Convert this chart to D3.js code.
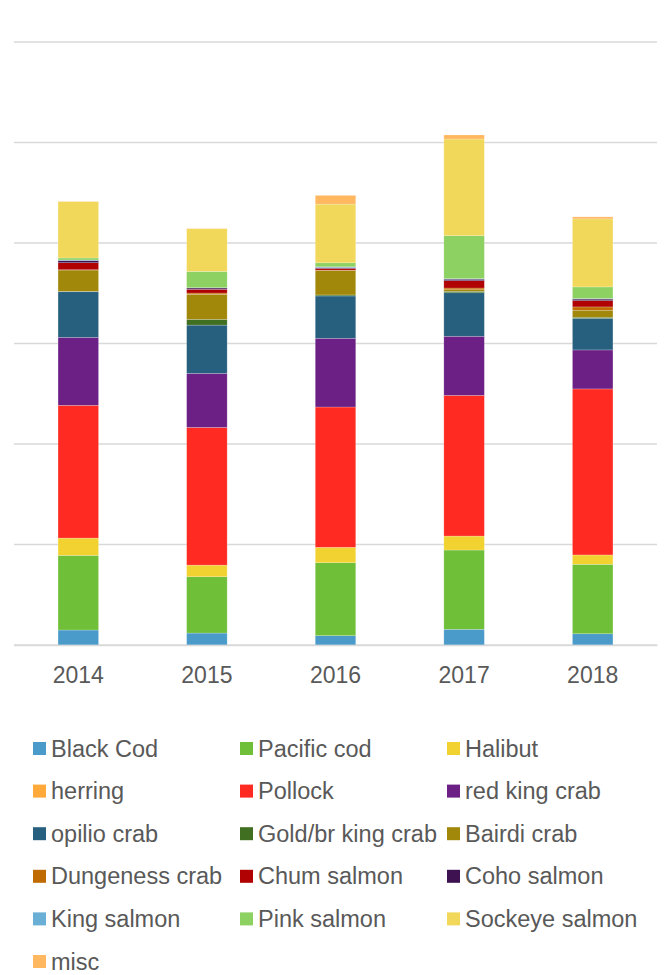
<!DOCTYPE html>
<html>
<head>
<meta charset="utf-8">
<script src="https://cdn.jsdelivr.net/npm/d3@7"></script>
<style>
  html, body { margin: 0; padding: 0; background: #fff; }
  svg { display: block; font-family: "Liberation Sans", Arial, sans-serif; }
</style>
</head>
<body>
<svg id="chart" width="667" height="975"></svg>
<script>
// Years on the category axis
const years = ["2014", "2015", "2016", "2017", "2018"];

// Value of each fishery per year (stacked bottom to top in this order)
const blackCod       = [14.9, 11.9, 9.3, 15.6, 11.2];
const pacificCod     = [74.3, 56.0, 72.6, 78.9, 69.1];
const halibut        = [17.2, 11.6, 15.3, 13.9, 9.3];
const herring        = [0.0, 0.0, 0.0, 0.0, 0.0];
const pollock        = [132.1, 137.0, 139.6, 140.0, 165.2];
const redKingCrab    = [67.6, 53.7, 68.4, 58.8, 38.8];
const opilioCrab     = [45.4, 48.1, 42.1, 43.3, 31.5];
const goldBrKingCrab = [0.4, 5.7, 1.0, 1.4, 1.0];
const bairdiCrab     = [21.2, 24.9, 24.2, 1.6, 7.0];
const dungenessCrab  = [0.3, 1.3, 0.5, 1.7, 3.3];
const chumSalmon     = [7.0, 3.7, 1.7, 7.3, 6.3];
const cohoSalmon     = [2.2, 1.3, 0.8, 1.5, 1.5];
const kingSalmon     = [0.5, 0.3, 0.8, 0.5, 0.5];
const pinkSalmon     = [2.0, 16.2, 4.0, 42.8, 11.6];
const sockeyeSalmon  = [56.0, 42.5, 58.4, 96.2, 67.7];
const misc           = [0.3, 0.3, 8.7, 4.0, 2.0];

// Value-axis gridline positions
const gridTicks = [0, 100, 200, 300, 400, 500, 600];

const seriesNames = [
  "Black Cod", "Pacific cod", "Halibut", "herring", "Pollock", "red king crab",
  "opilio crab", "Gold/br king crab", "Bairdi crab", "Dungeness crab",
  "Chum salmon", "Coho salmon", "King salmon", "Pink salmon",
  "Sockeye salmon", "misc"
];
const seriesValues = [
  blackCod, pacificCod, halibut, herring, pollock, redKingCrab,
  opilioCrab, goldBrKingCrab, bairdiCrab, dungenessCrab,
  chumSalmon, cohoSalmon, kingSalmon, pinkSalmon, sockeyeSalmon, misc
];
const seriesColors = [
  "#4a9bca", "#70bf38", "#f2d231", "#ffa93a", "#ff2b23", "#6c2085",
  "#27607f", "#406f22", "#a2880a", "#c06a02",
  "#b00202", "#3e1250", "#6aafd6", "#8cd162", "#f2d85a", "#ffb760"
];

// Build one row per year for d3.stack
const rows = years.map((y, i) => {
  const r = { year: y };
  seriesNames.forEach((n, k) => { r[n] = seriesValues[k][i]; });
  return r;
});

const svg = d3.select("#chart");
const plot = { left: 14, right: 657, top: 42, bottom: 645 };

const x = d3.scaleBand()
  .domain(years)
  .range([plot.left, plot.right])
  .paddingInner(0.685)
  .paddingOuter(0.3425);

const y = d3.scaleLinear()
  .domain([0, 600])
  .range([plot.bottom, plot.top]);

const color = d3.scaleOrdinal().domain(seriesNames).range(seriesColors);

// Horizontal gridlines
svg.append("g")
  .selectAll("line")
  .data(gridTicks)
  .join("line")
  .attr("x1", plot.left)
  .attr("x2", plot.right)
  .attr("y1", d => y(d))
  .attr("y2", d => y(d))
  .attr("stroke", "#d9d9d9")
  .attr("stroke-width", 1.5);

// Stacked bars
const stacked = d3.stack().keys(seriesNames)(rows);

svg.append("g")
  .selectAll("g")
  .data(stacked)
  .join("g")
  .attr("fill", d => color(d.key))
  .selectAll("rect")
  .data(d => d)
  .join("rect")
  .attr("x", d => x(d.data.year))
  .attr("width", x.bandwidth())
  .attr("y", d => y(d[1]))
  .attr("height", d => Math.max(0, y(d[0]) - y(d[1])))
  .attr("stroke", "#ffffff")
  .attr("stroke-opacity", 0.35)
  .attr("stroke-width", 0.6);

// Category axis
const xAxis = svg.append("g")
  .attr("transform", `translate(0,${plot.bottom})`)
  .call(d3.axisBottom(x).tickSize(0).tickPadding(22));
xAxis.select(".domain").attr("stroke", "#d9d9d9").attr("stroke-width", 1.5);
xAxis.selectAll("text")
  .attr("fill", "#595959")
  .style("font-size", "23px")
  .style("font-family", "'Liberation Sans', Arial, sans-serif");

// Legend: three columns, filled row by row
const colX = [33, 240, 447];
const rowY0 = 748.5, rowStep = 42.6, sw = 13;

const legend = svg.append("g")
  .selectAll("g")
  .data(seriesNames)
  .join("g")
  .attr("transform", (d, i) =>
    `translate(${colX[i % 3]},${rowY0 + Math.floor(i / 3) * rowStep})`);

legend.append("rect")
  .attr("x", 0)
  .attr("y", -sw / 2)
  .attr("width", sw)
  .attr("height", sw)
  .attr("fill", d => color(d));

legend.append("text")
  .attr("x", sw + 5)
  .attr("y", 8)
  .attr("fill", "#595959")
  .style("font-size", "23.5px")
  .text(d => d);
</script>
</body>
</html>
